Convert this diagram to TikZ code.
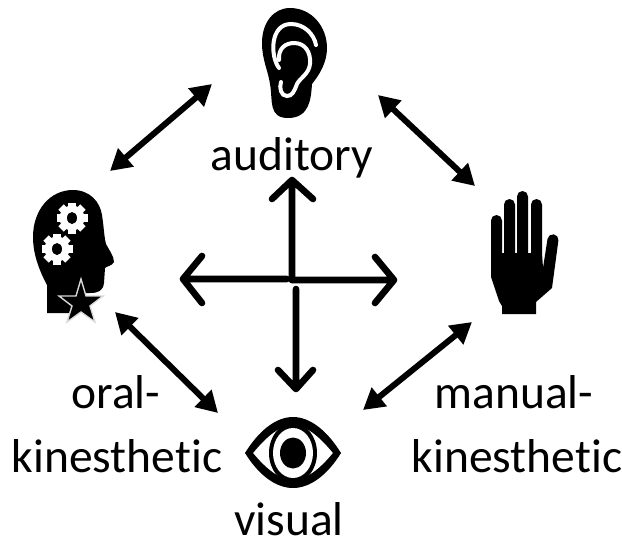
\documentclass[tikz,border=0pt]{standalone}
\usepackage{fontspec}
\setmainfont[Ligatures=NoCommon]{Carlito}
\usetikzlibrary{arrows.meta}
\tikzset{
  px/.style={x=1pt,y=-1pt},
  lbl/.style={anchor=base,inner sep=0pt,font=\fontsize{47.5}{50}\selectfont},
  dbl/.style={line width=6pt,{Triangle[length=21pt,width=23pt]}-{Triangle[length=21pt,width=23pt]}},
  cross/.style={line width=6.6pt,line cap=round,line join=round},
  icon/.style={fill=black,draw=none},
  earline/.style={draw=white,line width=4pt,line cap=round,fill=none}
}
\newcommand{\gear}[2]{%
  \fill[white] (#1,#2) circle (12.5);
  \foreach \a in {0,45,...,315}{\fill[white,rotate around={\a:(#1,#2)}] (#1-3.8,#2-15.5) rectangle (#1+3.8,#2-8);}
  \fill[black] (#1,#2) ellipse (5 and 6);
}
\begin{document}
\begin{tikzpicture}[px]
\useasboundingbox (0,0) rectangle (622,539);
% ear
\path[icon] (290,8) .. controls (312,8) and (327,27) .. (327,48)
  .. controls (327,62) and (320,74) .. (312,84)
  .. controls (311,98) and (310,118) .. (288,118)
  .. controls (268,118) and (273,100) .. (270,84)
  .. controls (268,70) and (262,60) .. (262,43)
  .. controls (262,22) and (274,8) .. (290,8) -- cycle;
\draw[earline] (279,68) .. controls (270,56) and (270,24) .. (291,24) .. controls (304,24) and (314,34) .. (316,45);
\draw[earline] (279,60) .. controls (278,48) and (286,43) .. (294,43) .. controls (305,43) and (311,52) .. (310,64) .. controls (309,74) and (300,78) .. (297,84) .. controls (294,92) and (292,96) .. (287,96) .. controls (281,96) and (279,88) .. (281,82);
\node[lbl] (auditory) at (292,170) {auditory};
% head
\path[icon] (73,190) .. controls (90,190) and (100,202) .. (102,215)
  .. controls (104,228) and (104,236) .. (106,244)
  .. controls (109,250) and (114,256) .. (114,262)
  .. controls (112,266) and (107,266) .. (105,268)
  -- (104,283) .. controls (103,291) and (98,293) .. (90,293) -- (80,293) -- (80,313) -- (47,313) -- (47,285)
  .. controls (40,272) and (33,255) .. (33,237)
  .. controls (33,210) and (50,190) .. (73,190) -- cycle;
\gear{72}{218}
\gear{57}{249}
\draw[draw=white!85!black,line width=1.4pt,fill=black,line join=miter]
  (81,279) -- (86,296) -- (103,296) -- (90,306) -- (95,322) -- (81,312) -- (67,322) -- (72,306) -- (59,296) -- (76,296) -- cycle;
% hand
\path[icon] (491,220.5) arc (180:360:5.5) -- (502,253) -- (504,253) -- (504,204.5) arc (180:360:5.5) -- (515,253) -- (517,253) -- (517,196.5) arc (180:360:5.5) -- (528,253) -- (531,253) -- (531,204.5) arc (180:360:5.5) -- (542,253) -- (543,268) -- (547.5,239) arc (188:368:5.5) -- (552,288) -- (536,302) -- (536,314) -- (502,314) -- (502,306) -- (499,301) -- (491,277) -- cycle;
% eye
\path[icon,even odd rule] (245,453) .. controls (258,432) and (275,417) .. (293,417) .. controls (311,417) and (328,432) .. (341,453) .. controls (328,474) and (311,488) .. (293,488) .. controls (275,488) and (258,474) .. (245,453) -- cycle
 (253,453) .. controls (266,437) and (280,425) .. (293,425) .. controls (306,425) and (320,437) .. (333,453) .. controls (320,469) and (306,480) .. (293,480) .. controls (280,480) and (266,469) .. (253,453) -- cycle;
\fill[black] (293,453) ellipse (24 and 30);
\fill[white] (293,453) ellipse (20 and 25);
\fill[black] (293,453) ellipse (13 and 15.5);
% double arrows
\coordinate (tl1) at (110,171); \coordinate (tl2) at (212,84);
\coordinate (tr1) at (378,95);  \coordinate (tr2) at (475,186);
\coordinate (bl1) at (115,312); \coordinate (bl2) at (218,413);
\coordinate (br1) at (363,410); \coordinate (br2) at (472,322);
\draw[dbl] (tl1) -- (tl2);
\draw[dbl] (tr1) -- (tr2);
\draw[dbl] (bl1) -- (bl2);
\draw[dbl] (br1) -- (br2);
% cross
\coordinate (cu) at (292,280); \coordinate (cut) at (292,180);
\coordinate (cl) at (287,279); \coordinate (clt) at (183,279);
\coordinate (cr) at (292,280); \coordinate (crt) at (394,280);
\coordinate (cd) at (296,289); \coordinate (cdt) at (296,389);
\draw[cross] (cu) -- (cut) (272,199) -- (cut) -- (313,199);
\draw[cross] (cl) -- (clt) (202,256) -- (clt) -- (202,303);
\draw[cross] (cr) -- (crt) (375,257) -- (crt) -- (375,303);
\draw[cross] (cd) -- (cdt) (278,370) -- (cdt) -- (313,370);
% labels
\node[lbl] (oral) at (116,408) {oral-};
\node[lbl] (okin) at (117,472) {kinesthetic};
\node[lbl] (manual) at (514,408) {manual-};
\node[lbl] (mkin) at (517,472) {kinesthetic};
\node[lbl] (visual) at (289,535) {visual};
\end{tikzpicture}
\end{document}
